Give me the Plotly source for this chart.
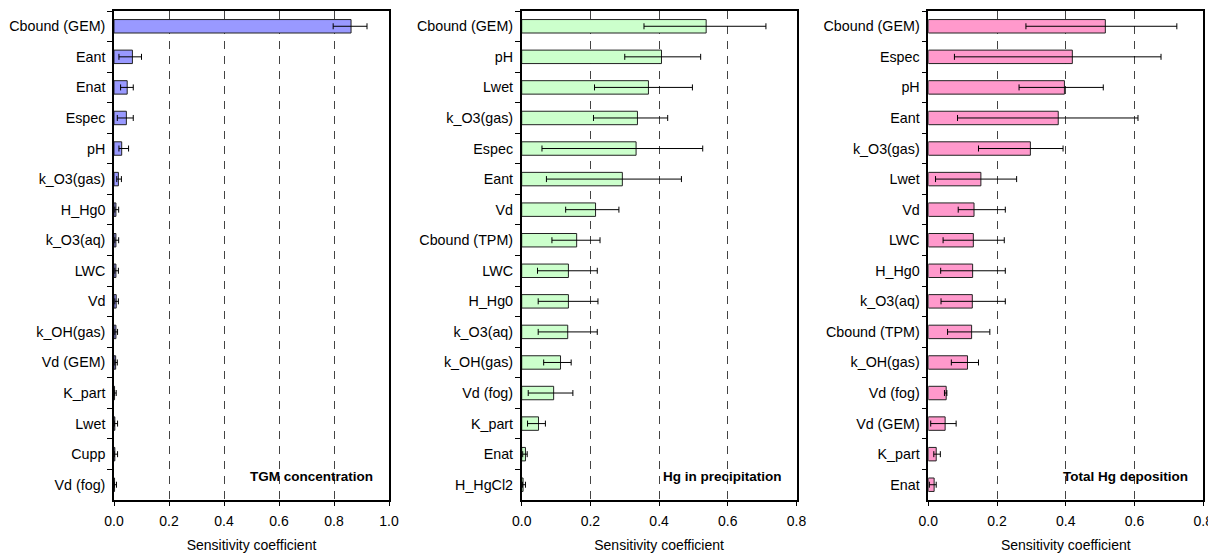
import plotly.graph_objects as go
from plotly.subplots import make_subplots

# Panel 1: TGM concentration
cats1 = ["Cbound (GEM)", "Eant", "Enat", "Espec", "pH", "k_O3(gas)", "H_Hg0", "k_O3(aq)",
         "LWC", "Vd", "k_OH(gas)", "Vd (GEM)", "K_part", "Lwet", "Cupp", "Vd (fog)"]
val1 = [0.862, 0.067, 0.048, 0.045, 0.028, 0.016, 0.007, 0.007,
        0.007, 0.008, 0.007, 0.006, 0.002, 0.003, 0.003, 0.002]
low1 = [0.797, 0.018, 0.024, 0.012, 0.018, 0.010, 0.003, 0.003,
        0.003, 0.003, 0.003, 0.003, 0.001, 0.001, 0.001, 0.001]
high1 = [0.920, 0.100, 0.070, 0.070, 0.053, 0.027, 0.017, 0.017,
         0.016, 0.016, 0.013, 0.012, 0.008, 0.013, 0.013, 0.009]

# Panel 2: Hg in precipitation
cats2 = ["Cbound (GEM)", "pH", "Lwet", "k_O3(gas)", "Espec", "Eant", "Vd", "Cbound (TPM)",
         "LWC", "H_Hg0", "k_O3(aq)", "k_OH(gas)", "Vd (fog)", "K_part", "Enat", "H_HgCl2"]
val2 = [0.537, 0.407, 0.369, 0.337, 0.333, 0.293, 0.215, 0.160,
        0.136, 0.136, 0.134, 0.113, 0.093, 0.049, 0.011, 0.004]
low2 = [0.356, 0.300, 0.212, 0.209, 0.059, 0.072, 0.128, 0.088,
        0.046, 0.048, 0.048, 0.064, 0.019, 0.017, 0.003, 0.002]
high2 = [0.711, 0.521, 0.497, 0.425, 0.527, 0.465, 0.283, 0.228,
         0.220, 0.222, 0.220, 0.144, 0.149, 0.069, 0.016, 0.011]

# Panel 3: Total Hg deposition
cats3 = ["Cbound (GEM)", "Espec", "pH", "Eant", "k_O3(gas)", "Lwet", "Vd", "LWC",
         "H_Hg0", "k_O3(aq)", "Cbound (TPM)", "k_OH(gas)", "Vd (fog)", "Vd (GEM)", "K_part", "Enat"]
val3 = [0.515, 0.419, 0.396, 0.378, 0.297, 0.153, 0.133, 0.131,
        0.129, 0.128, 0.126, 0.114, 0.052, 0.049, 0.023, 0.017]
low3 = [0.284, 0.076, 0.264, 0.085, 0.146, 0.021, 0.087, 0.043,
        0.036, 0.037, 0.056, 0.067, 0.047, 0.007, 0.016, 0.003]
high3 = [0.723, 0.677, 0.509, 0.610, 0.392, 0.257, 0.224, 0.221,
         0.224, 0.224, 0.179, 0.146, 0.054, 0.081, 0.035, 0.023]

titles = ["TGM concentration", "Hg in precipitation", "Total Hg deposition"]
colors = ["#9999FF", "#CCFFCC", "#FF99CC"]
xmax = [1.0, 0.8, 0.8]

# page offset (default body margin) compensation
OFF = 8
W, H = 1216 - OFF, 553 - OFF


def fx(px):
    return (px - OFF) / W


def fy(py):
    return 1 - (py - OFF) / H


xdomains = [[fx(114), fx(389)], [fx(521.7), fx(796.5)], [fx(928.3), fx(1203.3)]]
ydomain = [fy(500), fy(11)]

FONT = "Liberation Sans, Arial, sans-serif"

fig = make_subplots(rows=1, cols=3)

panels = [(cats1, val1, low1, high1), (cats2, val2, low2, high2), (cats3, val3, low3, high3)]
for i, (c, v, lo, hi) in enumerate(panels):
    fig.add_trace(go.Bar(
        y=c, x=v, orientation="h", width=0.44,
        marker=dict(color=colors[i], line=dict(color="#222222", width=1)),
        error_x=dict(type="data", symmetric=False,
                     array=[h - a for h, a in zip(hi, v)],
                     arrayminus=[a - l for a, l in zip(v, lo)],
                     color="black", thickness=1, width=3),
        showlegend=False,
    ), row=1, col=i + 1)

    xa = "xaxis" if i == 0 else f"xaxis{i + 1}"
    ya = "yaxis" if i == 0 else f"yaxis{i + 1}"
    fig.update_layout({
        xa: dict(domain=xdomains[i], range=[0, xmax[i]], dtick=0.2, tickformat=".1f",
                 showgrid=True, gridcolor="#444444", griddash="8px,7px", gridwidth=1,
                 zeroline=False, showline=True, linecolor="black", linewidth=1.5, mirror=True,
                 ticks="outside", ticklen=4, tickcolor="black", automargin=False,
                 ticklabelstandoff=3,
                 tickfont=dict(family=FONT, size=14, color="black"),
                 title=dict(text="Sensitivity coefficient", standoff=14,
                            font=dict(family=FONT, size=14, color="black"))),
        ya: dict(domain=ydomain, autorange="reversed", type="category", automargin=False,
                 showgrid=False, zeroline=False, showline=True, linecolor="black",
                 linewidth=1.5, mirror=True, ticks="outside", ticklen=5, tickcolor="black",
                 tickson="boundaries", ticklabelstandoff=4,
                 tickfont=dict(family=FONT, size=14.3, color="black")),
    })

ann_x = [375, 784, 1190]
for i, t in enumerate(titles):
    fig.add_annotation(text="<b>" + t + "</b>", xref="paper", yref="paper",
                       x=fx(ann_x[i]), y=fy(476), xanchor="right", yanchor="middle",
                       showarrow=False, font=dict(family=FONT, size=13.5, color="black"))

fig.update_layout(width=W, height=H, margin=dict(l=0, r=0, t=0, b=0, autoexpand=False),
                  paper_bgcolor="white", plot_bgcolor="white")

fig.write_html("out.html")
